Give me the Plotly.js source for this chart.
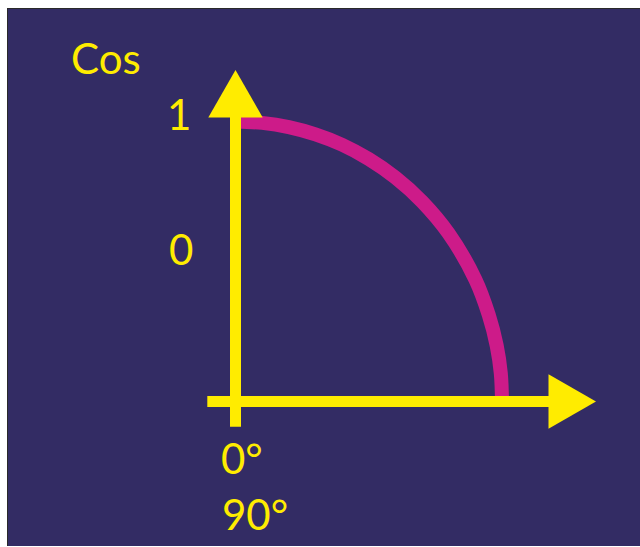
<!DOCTYPE html>
<html><head><meta charset="utf-8">
<script src="https://cdn.plot.ly/plotly-3.0.1.min.js"></script>
<style>html,body{margin:0;padding:0;background:#fff;}</style>
</head><body><div id="chart" style="width:640px;height:547px;"></div>
<script>
// ---- data ----
const angleDeg = [0, 9, 18, 27, 36, 45, 54, 63, 72, 81, 85.5, 88.2, 89.6, 90];
const cosValue = [1, 0.995, 0.98, 0.954, 0.917, 0.866, 0.80, 0.714, 0.60, 0.436, 0.31, 0.20, 0.10, 0];
const yTickLabels = ['1', '0'];
const xTickLabels = ['0°', '90°'];
const axisTitle = 'Cos';

// ---- layout configuration ----
const NAVY = '#332c64', YELLOW = '#ffec00', PINK = '#cd1b89';
const W = 640, H = 547;
const plotL = 8, plotT = 9, plotR = 640, plotB = 546;
const originPx = [235.5, 401.5];
const pxPerX = 266.5 / 90, pxPerY = 280;
const X = px => (px - originPx[0]) / pxPerX;
const Y = py => (originPx[1] - py) / pxPerY;
const xRange = [X(plotL), X(plotR)];
const yRange = [Y(plotB), Y(plotT)];

const axisW = 11;
const head = {len: 47.5, half: 27.2};
const vTop = 70, vBottom = 426.7;       // vertical axis tip / bottom (px)
const hLeft = 207.3, hTip = 596;        // horizontal axis left / tip (px)

const traces = [];
// the curve
traces.push({x: angleDeg, y: cosValue, mode: 'lines', hoverinfo: 'skip',
  line: {color: PINK, width: 14, shape: 'spline', smoothing: 1}});
// axis lines
traces.push({x: [0, 0], y: [Y(vBottom), Y(vTop + head.len - 3)], mode: 'lines', hoverinfo: 'skip',
  line: {color: YELLOW, width: axisW}});
traces.push({x: [X(hLeft), X(hTip - head.len + 3)], y: [0, 0], mode: 'lines', hoverinfo: 'skip',
  line: {color: YELLOW, width: axisW}});
// arrow heads
const ub = vTop + head.len;
traces.push({x: [X(originPx[0] - head.half), X(originPx[0] + head.half), 0, X(originPx[0] - head.half)],
  y: [Y(ub), Y(ub), Y(vTop), Y(ub)], mode: 'lines', fill: 'toself', fillcolor: YELLOW,
  line: {width: 0, color: YELLOW}, hoverinfo: 'skip'});
const rb = hTip - head.len;
traces.push({x: [X(rb), X(rb), X(hTip), X(rb)],
  y: [Y(originPx[1] - head.half), Y(originPx[1] + head.half), 0, Y(originPx[1] - head.half)],
  mode: 'lines', fill: 'toself', fillcolor: YELLOW,
  line: {width: 0, color: YELLOW}, hoverinfo: 'skip'});

const font = {family: 'Lato, "Open Sans", sans-serif', size: 42, color: YELLOW};
const ann = (text, cx, cy) => ({text: text, x: X(cx), y: Y(cy), xref: 'x', yref: 'y',
  xanchor: 'center', yanchor: 'middle', showarrow: false, font: font});
const annotations = [
  ann(axisTitle, 106, 58),
  ann(yTickLabels[0], 178.5, 113.5),
  ann(yTickLabels[1], 180.5, 248.5),
  ann(xTickLabels[0], 242, 457.5),
  ann(xTickLabels[1], 254.5, 514)
];

const layout = {
  width: W, height: H, showlegend: false,
  margin: {l: plotL, r: W - plotR, t: plotT, b: H - plotB, pad: 0},
  paper_bgcolor: '#ffffff', plot_bgcolor: NAVY,
  xaxis: {range: xRange, showgrid: false, zeroline: false, showticklabels: false, ticks: '',
    showline: true, side: 'top', linecolor: '#2a2a2a', linewidth: 1, fixedrange: true},
  yaxis: {range: yRange, showgrid: false, zeroline: false, showticklabels: false, ticks: '',
    showline: true, side: 'left', linecolor: '#2a2a2a', linewidth: 1, fixedrange: true},
  annotations: annotations
};
Plotly.newPlot('chart', traces, layout, {displayModeBar: false, staticPlot: true});
</script></body></html>
